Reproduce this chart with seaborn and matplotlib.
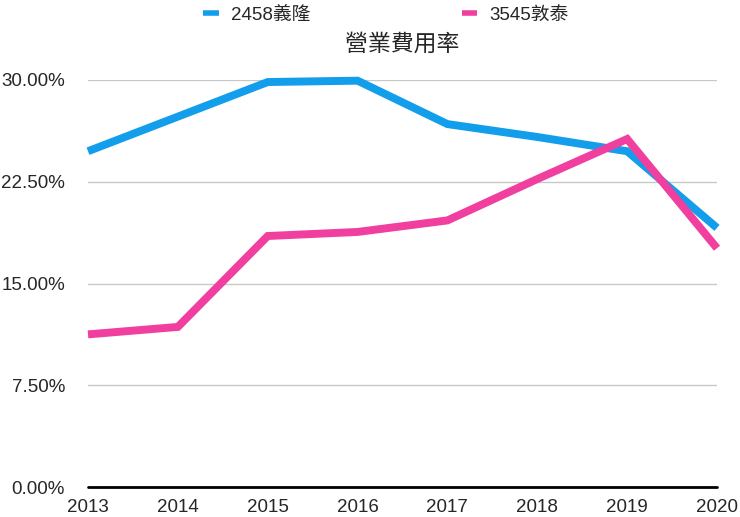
import numpy as np
import pandas as pd
import matplotlib
matplotlib.use("Agg")
import matplotlib.pyplot as plt
import seaborn as sns
from matplotlib.ticker import FuncFormatter
from matplotlib.lines import Line2D

years = [2013, 2014, 2015, 2016, 2017, 2018, 2019, 2020]
yilong = [24.75, 27.3, 29.85, 29.95, 26.75, 25.8, 24.75, 19.1]
duntai = [11.25, 11.8, 18.5, 18.8, 19.65, 22.7, 25.65, 17.6]
series_names = ["2458義隆", "3545敦泰"]
colors = ["#139eec", "#f03f9e"]
title = "營業費用率"
yticks = [0, 7.5, 15, 22.5, 30]

sns.set_theme(style="white")
plt.rcParams['font.family'] = ['Liberation Sans', 'Noto Sans CJK TC', 'DejaVu Sans']

df = pd.DataFrame({
    "year": years * 2,
    "value": yilong + duntai,
    "series": [series_names[0]] * len(years) + [series_names[1]] * len(years),
})

fig = plt.figure(figsize=(7.4, 5.17), dpi=100)
ax = fig.add_axes([88 / 740, 1 - 487 / 517, (717 - 88) / 740, (487 - 80) / 517])

ax.set_yticks(yticks)
ax.yaxis.grid(True, color="#c8c8c8", linewidth=1)
ax.set_axisbelow(True)

sns.lineplot(data=df, x="year", y="value", hue="series", palette=colors,
             linewidth=5.7, ax=ax, legend=False)
for ln in ax.lines:
    ln.set_clip_on(False)
    ln.set_solid_joinstyle("miter")
    ln.set_solid_capstyle("butt")

ax.axhline(0, color="black", linewidth=2, clip_on=False, zorder=1)

ax.set_xlim(2013, 2020)
ax.set_ylim(0, 30)
ax.set_xticks(years)
ax.set_xticklabels([str(y) for y in years], fontsize=13.5)
ax.yaxis.set_major_formatter(FuncFormatter(lambda v, p: f"{v:.2f}%"))
ax.tick_params(axis="y", labelsize=13.5, length=0, pad=16.5)
ax.tick_params(axis="x", length=0, pad=9)
for s in ax.spines.values():
    s.set_visible(False)
ax.set_xlabel("")
ax.set_ylabel("")

fig.text(402 / 740, 1 - 44 / 517, title, ha="center", va="center", fontsize=16.5)

handles = [Line2D([0], [0], color=c, linewidth=4, solid_capstyle="butt") for c in colors]
fig.legend(handles, series_names, loc="center", bbox_to_anchor=(386 / 740, 1 - 15 / 517),
           ncol=2, frameon=False, fontsize=13.5, handlelength=0.85, handletextpad=0.65,
           columnspacing=8.05)

fig.savefig("out.png", dpi=100)
